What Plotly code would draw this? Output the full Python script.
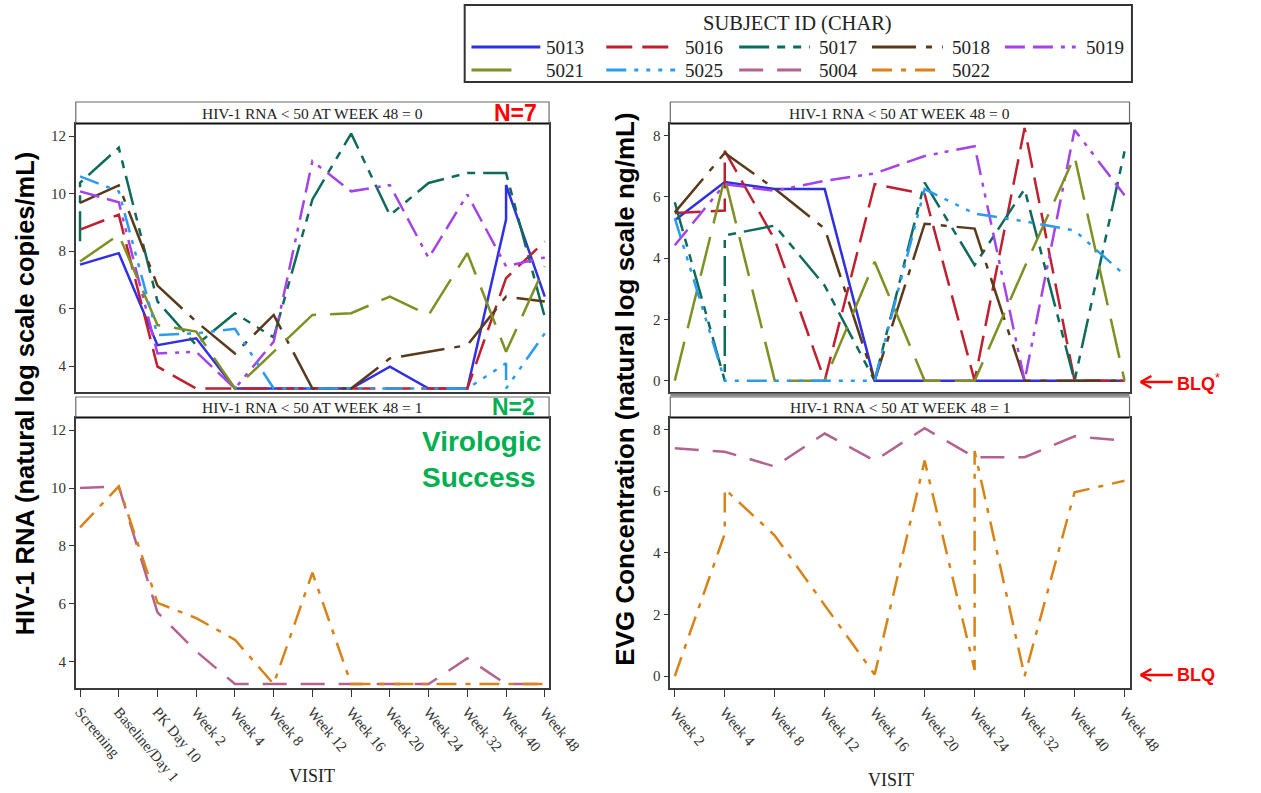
import plotly.graph_objects as go

W, H = 1261, 793

# ---- visits -------------------------------------------------------------
rna_visits = ["Screening", "Baseline/Day 1", "PK Day 10", "Week 2", "Week 4", "Week 8",
              "Week 12", "Week 16", "Week 20", "Week 24", "Week 32", "Week 40", "Week 48"]
evg_visits = ["Week 2", "Week 4", "Week 8", "Week 12", "Week 16", "Week 20",
              "Week 24", "Week 32", "Week 40", "Week 48"]

# ---- HIV-1 RNA (natural log copies/mL); a tuple holds repeat results at one visit
rna_5013 = [7.53, 7.93, 4.73, 4.97, 3.22, 3.22, 3.22, 3.22, 3.98, 3.22, 3.22, (9.10, 10.3), 6.42]
rna_5016 = [8.75, 9.27, 3.98, 3.22, 3.22, 3.22, 3.22, 3.22, 3.22, 3.22, 3.22, 7.06, 8.34]
rna_5017 = [(8.34, 10.38), 11.6, 6.25, 4.73, 5.84, 5.0, 9.8, 12.09, 9.25, 10.37, 10.72, 10.72, 5.7]
rna_5018 = [9.68, 10.29, 6.8, 5.55, 4.44, 5.78, 3.22, 3.22, 4.27, 4.5, 4.73, 6.42, 6.25]
rna_5019 = [10.08, 9.7, 4.44, 4.5, 3.22, 4.85, 11.13, 10.08, 10.3, 7.76, 9.97, 7.47, 7.78]
rna_5021 = [7.64, 8.57, 5.43, 5.2, 3.22, 4.5, 5.78, 5.84, 6.42, 5.78, 7.93, 4.5, 7.47]
rna_5025 = [10.6, 10.08, 5.08, 5.14, 5.3, 3.22, 3.22, 3.22, 3.22, 3.22, 3.22, (4.1, 3.22), 5.14]
rna_5004 = [10.0, 10.06, 5.7, 4.35, 3.22, 3.22, 3.22, 3.22, 3.22, 3.22, 4.11, 3.22, 3.22]
rna_5022 = [8.64, 10.06, 6.03, 5.5, 4.75, 3.22, 7.07, 3.22, 3.22, 3.22, 3.22, 3.22, 3.22]

# ---- EVG concentration (natural log ng/mL); 0 = BLQ
evg_5013 = [5.23, 6.48, 6.25, 6.25, 0, 0, 0, 0, 0, 0]
evg_5016 = [5.47, (5.55, 7.5), 4.6, 0, 6.41, 6.09, 0, 8.24, 0, 0]
evg_5017 = [5.82, (0, 4.74), 5.06, 3.1, 0, 6.46, 3.77, 6.25, 0, 7.48]
evg_5018 = [5.49, 7.43, 6.26, 4.96, 0, 5.12, 4.96, 0, 0, 0]
evg_5019 = [4.42, 6.41, 6.19, 6.52, 6.76, 7.33, 7.65, 0, 8.18, 6.05]
evg_5021 = [0, 6.62, 0, 0, 3.88, 0, 0, 3.7, 7.32, 0]
evg_5025 = [5.3, 0, 0, 0, 0, 6.25, 5.45, 5.2, 4.9, 3.45]
evg_5004 = [7.39, 7.28, 6.8, 7.87, 6.99, 8.04, 7.1, 7.1, 7.78, 7.64]
evg_5022 = [0, (4.62, 6.07), 4.56, 2.3, 0.05, 6.99, (0.2, 7.3), 0, 5.96, 6.34]

subjects_fail = ["5013", "5016", "5017", "5018", "5019", "5021", "5025"]
subjects_success = ["5004", "5022"]
legend_order = ["5013", "5016", "5017", "5018", "5019", "5021", "5025", "5004", "5022"]

rna = {"5013": rna_5013, "5016": rna_5016, "5017": rna_5017, "5018": rna_5018,
       "5019": rna_5019, "5021": rna_5021, "5025": rna_5025, "5004": rna_5004, "5022": rna_5022}
evg = {"5013": evg_5013, "5016": evg_5016, "5017": evg_5017, "5018": evg_5018,
       "5019": evg_5019, "5021": evg_5021, "5025": evg_5025, "5004": evg_5004, "5022": evg_5022}

COLOR = {"5013": "#2F2FE6", "5016": "#C01F2F", "5017": "#0E6B5C", "5018": "#5A3A1B",
         "5019": "#A443E6", "5021": "#7F8F22", "5025": "#2A9BF2", "5004": "#B2638F",
         "5022": "#D98216"}
DASH = {"5013": "solid",
        "5016": "26px,10px",
        "5017": "30px,8px,8px,8px,8px,8px",
        "5018": "44px,10px,6px,10px",
        "5019": "20px,8px,20px,8px,4px,7px,4px,8px",
        "5021": "40px,14px",
        "5025": "20px,8px,4px,8px,4px,8px,4px,8px",
        "5004": "24px,14px",
        "5022": "20px,9px,5px,9px"}


def expand(visits, values):
    xs, ys = [], []
    for v, val in zip(visits, values):
        for item in (val if isinstance(val, tuple) else (val,)):
            xs.append(v)
            ys.append(item)
    return xs, ys


def fx(px):
    return px / W


def fy(py):
    return 1 - py / H


fig = go.Figure()

panels = [("x", "y", rna_visits, rna, subjects_fail),
          ("x2", "y2", rna_visits, rna, subjects_success),
          ("x3", "y3", evg_visits, evg, subjects_fail),
          ("x4", "y4", evg_visits, evg, subjects_success)]
for xa, ya, visits, table, subs in panels:
    for s in subs:
        xs, ys = expand(visits, table[s])
        fig.add_trace(go.Scatter(x=xs, y=ys, mode="lines", name=s, xaxis=xa, yaxis=ya,
                                 line=dict(color=COLOR[s], width=2.5, dash=DASH[s]),
                                 showlegend=False, hoverinfo="x+y+name"))

SERIF = "Liberation Serif, Times New Roman, serif"
SANS = "Liberation Sans, Arial, sans-serif"
ytickfont = dict(family=SERIF, size=15, color="#333")
xtickfont = dict(family=SERIF, size=15, color="#333")

L0, L1 = fx(74), fx(562)
R0, R1 = fx(687), fx(1160.5)
TOP = [fy(392), fy(123.5)]
BOT = [fy(687.5), fy(417.5)]

axis_common = dict(showline=True, mirror=True, linecolor="#3a3a3a", linewidth=1.5,
                   showgrid=False, zeroline=False)


def xaxis(domain, visits, anchor, labels):
    d = dict(axis_common, domain=domain, anchor=anchor, type="category",
             categoryorder="array", categoryarray=visits, tickfont=xtickfont,
             range=[-0.11, len(visits) - 1 + 0.11] if len(visits) == 13 else [-0.09, 9.1])
    if labels:
        d.update(ticks="outside", ticklen=8, tickcolor="#333", tickwidth=1.3,
                 tickangle=50, showticklabels=True)
    else:
        d.update(ticks="", showticklabels=False)
    return d


def yaxis(domain, anchor, rng, vals):
    return dict(axis_common, domain=domain, anchor=anchor, range=rng, tickvals=vals,
                tickfont=ytickfont, ticks="outside", ticklen=5, tickcolor="#333",
                tickwidth=1.3)


fig.update_layout(
    width=W, height=H, margin=dict(l=0, r=0, t=0, b=0),
    paper_bgcolor="white", plot_bgcolor="white", showlegend=False,
    xaxis=xaxis([L0, L1], rna_visits, "y", False),
    xaxis2=xaxis([L0, L1], rna_visits, "y2", True),
    xaxis3=xaxis([R0, R1], evg_visits, "y3", False),
    xaxis4=xaxis([R0, R1], evg_visits, "y4", True),
    yaxis=yaxis(TOP, "x", [3.1, 12.44], [4, 6, 8, 10, 12]),
    yaxis2=yaxis(BOT, "x2", [3.1, 12.44], [4, 6, 8, 10, 12]),
    yaxis3=yaxis(TOP, "x3", [-0.37, 8.39], [0, 2, 4, 6, 8]),
    yaxis4=yaxis(BOT, "x4", [-0.37, 8.39], [0, 2, 4, 6, 8]),
)

shapes = []
annos = []


def text(px, py, s, family, size, color, xanchor="center", angle=0):
    annos.append(dict(xref="paper", yref="paper", x=fx(px), y=fy(py), text=s,
                      showarrow=False, textangle=angle,
                      font=dict(family=family, size=size, color=color),
                      xanchor=xanchor, yanchor="middle"))


def pline(x0, y0, x1, y1, color, width, dash="solid"):
    shapes.append(dict(type="line", xref="paper", yref="paper",
                       x0=fx(x0), x1=fx(x1), y0=fy(y0), y1=fy(y1),
                       line=dict(color=color, width=width, dash=dash)))


# panel header strips
for (x0, x1) in [(74, 562), (687, 1160.5)]:
    for (y0, y1, flag) in [(102, 123.5, "0"), (397, 417.5, "1")]:
        shapes.append(dict(type="rect", xref="paper", yref="paper",
                           x0=fx(x0), x1=fx(x1), y0=fy(y1), y1=fy(y0),
                           line=dict(color="#6a6a6a", width=1.2), fillcolor="white"))
        pline(x0, y1, x1, y1, "#111", 2.2)
        text((x0 + x1) / 2, (y0 + y1) / 2 + 0.5, "HIV-1 RNA &lt; 50 AT WEEK 48 = " + flag,
             SERIF, 15.5, "#222")

# separator between the two right-hand rows
pline(687, 395, 1160.5, 395, "#888", 3)

# legend box
shapes.append(dict(type="rect", xref="paper", yref="paper",
                   x0=fx(475), x1=fx(1163), y0=fy(82), y1=fy(5),
                   line=dict(color="#333", width=2), fillcolor="white", layer="below"))
text(818, 23, "SUBJECT ID (CHAR)", SERIF, 20.5, "#222")
row_y = [47, 70]
col_line = [(482, 553), (621, 692), (758, 831), (895, 968), (1032, 1105)]
col_line2 = [(482, 537), (621, 692), (758, 827), (895, 966)]
col_text = [557, 700, 838, 975, 1114]
for i, s in enumerate(legend_order):
    r, c = divmod(i, 5)
    x0, x1 = (col_line if r == 0 else col_line2)[c]
    pline(x0, row_y[r], x1, row_y[r], COLOR[s], 3, DASH[s])
    text(col_text[c], row_y[r], s, SERIF, 19, "#222", xanchor="left")

# panel callouts
text(527, 113, "<b>N=7</b>", SANS, 23, "#FF0000")
text(525, 407, "<b>N=2</b>", SANS, 23, "#00B050")
text(429, 441, "<b>Virologic</b>", SANS, 28, "#00B050", xanchor="left")
text(429, 477, "<b>Success</b>", SANS, 28, "#00B050", xanchor="left")

# BLQ markers: arrow drawn as line segments, label as text
for py, lab in [(382, "<b>BLQ</b><sup>*</sup>"), (675, "<b>BLQ</b>")]:
    pline(1172, py, 1205, py, "#FF0000", 2.4)
    pline(1172, py, 1183, py - 6, "#FF0000", 2.4)
    pline(1172, py, 1183, py + 6, "#FF0000", 2.4)
    text(1207, py, lab, SANS, 18, "#FF0000", xanchor="left")

# axis titles
text(22, 393, "<b>HIV-1 RNA (natural log scale copies/mL)</b>", SANS, 25.5, "#000", angle=-90)
text(640, 389, "<b>EVG Concentration (natural log scale ng/mL)</b>", SANS, 26, "#000", angle=-90)
text(318, 776, "VISIT", SERIF, 18, "#222")
text(915, 780, "VISIT", SERIF, 18, "#222")

fig.update_layout(shapes=shapes, annotations=annos)
fig.write_html("out.html")
